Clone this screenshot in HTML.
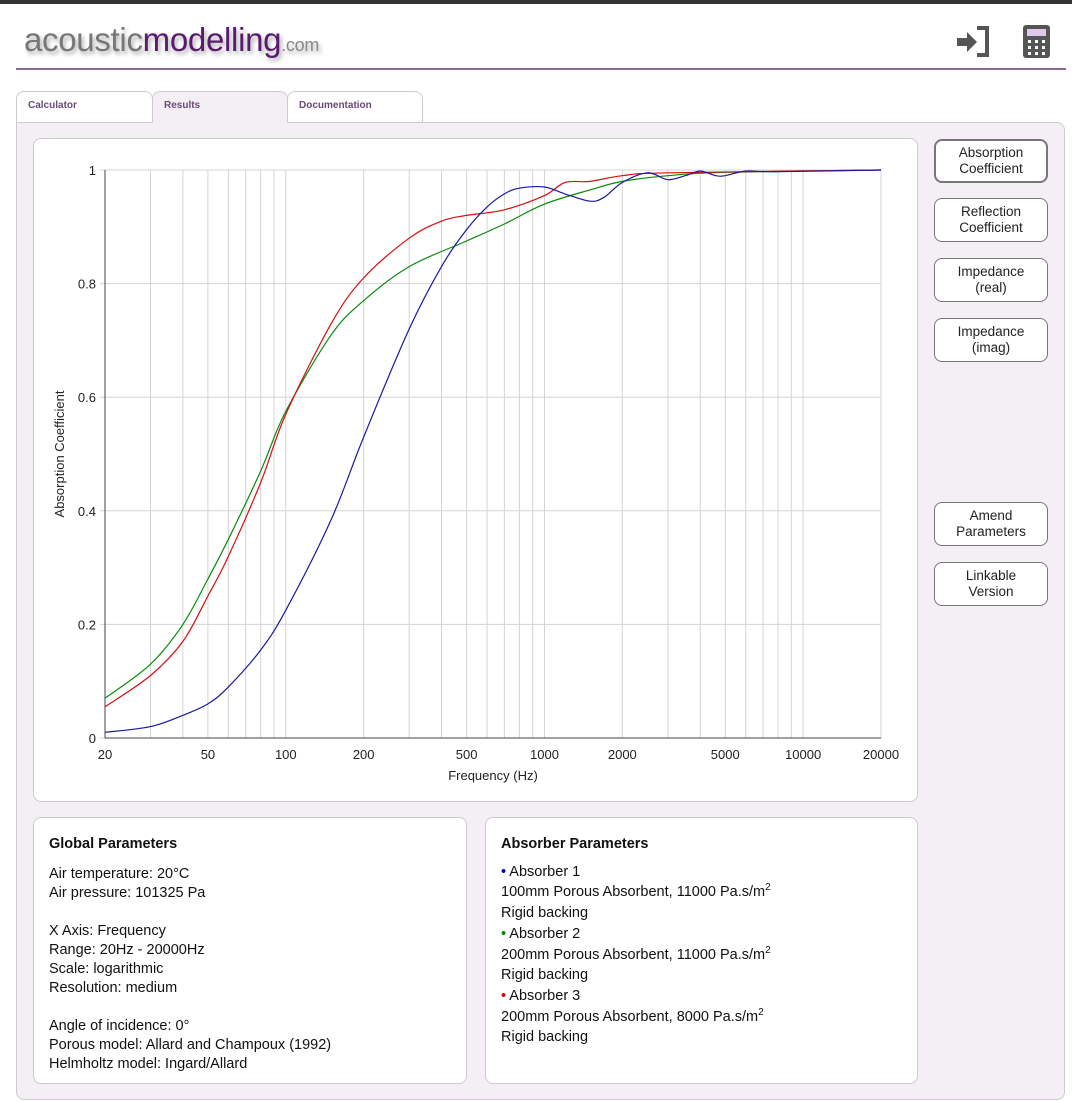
<!DOCTYPE html>
<html><head><style>
body{margin:0;width:1072px;height:1102px;background:#fff;font-family:"Liberation Sans",sans-serif;position:relative;overflow:hidden}
.topbar{position:absolute;left:0;top:0;width:1072px;height:4px;background:#333}
.logo{position:absolute;left:24px;top:21px;font-size:33px;letter-spacing:-0.3px;text-shadow:2px 3px 4px #aaa}
.logo .a{color:#777}.logo .b{color:#5a1a6e}.logo .c{color:#888;font-size:18px}
.hr{position:absolute;left:16px;top:68px;width:1050px;height:2px;background:#8a6a94}
.tab{position:absolute;top:91px;height:31px;border:1px solid #ccc;border-bottom:none;border-radius:8px 8px 0 0;background:#fff;font-size:10px;font-weight:bold;color:#6a4a78;box-sizing:border-box;padding:8px 11px}
.panel{position:absolute;left:16px;top:122px;width:1049px;height:978px;background:#f4eff5;border:1px solid #ccc;border-radius:0 8px 8px 8px;box-sizing:border-box}
.card{position:absolute;background:#fff;border:1px solid #ccc;border-radius:8px;box-sizing:border-box}
.btn{position:absolute;left:934px;width:114px;height:44px;background:#fff;border:1px solid #777;border-radius:8px;box-sizing:border-box;font-size:13.5px;text-align:center;line-height:16px;padding-top:5px;color:#222}
.txt{font-size:14.5px;line-height:19px;color:#111;padding:16px 15px}
.txt b{display:block;margin-bottom:11px;font-size:14.5px}
</style></head><body>
<div class="topbar"></div>
<div class="logo"><span class="a">acoustic</span><span class="b">modelling</span><span class="c">.com</span></div>
<svg style="position:absolute;left:955px;top:25px" width="36" height="34"><path d="M22 3h10v27h-10" fill="none" stroke="#555" stroke-width="4"/><path d="M2 13h10v-6l10 10-10 10v-6H2z" fill="#555"/></svg>
<svg style="position:absolute;left:1023px;top:25px" width="28" height="34"><rect x="0" y="0" width="27" height="33" rx="3" fill="#555"/><rect x="4" y="4" width="19" height="7" fill="#e0c8ea"/><g fill="#fff"><rect x="5" y="15" width="3" height="3"/><rect x="12" y="15" width="3" height="3"/><rect x="19" y="15" width="3" height="3"/><rect x="5" y="21" width="3" height="3"/><rect x="12" y="21" width="3" height="3"/><rect x="19" y="21" width="3" height="3"/><rect x="5" y="27" width="3" height="3"/><rect x="12" y="27" width="3" height="3"/><rect x="19" y="27" width="3" height="3"/></g></svg>
<div class="hr"></div>
<div class="panel"></div>
<div class="tab" style="left:16px;width:137px">Calculator</div>
<div class="tab" style="left:152px;width:136px;background:#f4eff5;height:32px">Results</div>
<div class="tab" style="left:287px;width:136px">Documentation</div>
<div class="card" style="left:33px;top:138px;width:885px;height:664px"></div>
<svg id="ch" style="position:absolute;left:0;top:0" width="1072" height="1102"></svg>
<div class="btn" style="top:139px;border-width:2px;padding-top:4px">Absorption<br>Coefficient</div>
<div class="btn" style="top:198px">Reflection<br>Coefficient</div>
<div class="btn" style="top:258px">Impedance<br>(real)</div>
<div class="btn" style="top:318px">Impedance<br>(imag)</div>
<div class="btn" style="top:502px">Amend<br>Parameters</div>
<div class="btn" style="top:562px">Linkable<br>Version</div>
<div class="card txt" style="left:33px;top:817px;width:434px;height:267px;padding-top:17px"><b>Global Parameters</b>Air temperature: 20°C<br>Air pressure: 101325 Pa<br><br>X Axis: Frequency<br>Range: 20Hz - 20000Hz<br>Scale: logarithmic<br>Resolution: medium<br><br>Angle of incidence: 0°<br>Porous model: Allard and Champoux (1992)<br>Helmholtz model: Ingard/Allard</div>
<div class="card txt" style="left:485px;top:817px;width:433px;height:267px;line-height:20.7px"><b style="margin-bottom:7px">Absorber Parameters</b><span style="color:#00a">•</span> Absorber 1<br>100mm Porous Absorbent, 11000 Pa.s/m<sup style="font-size:10px;line-height:0">2</sup><br>Rigid backing<br><span style="color:#080">•</span> Absorber 2<br>200mm Porous Absorbent, 11000 Pa.s/m<sup style="font-size:10px;line-height:0">2</sup><br>Rigid backing<br><span style="color:#c00">•</span> Absorber 3<br>200mm Porous Absorbent, 8000 Pa.s/m<sup style="font-size:10px;line-height:0">2</sup><br>Rigid backing</div>
<script>
var X0=105,X1=881,Y1=170,Y0=738;
function px(f){return X0+(Math.log10(f)-Math.log10(20))/3*(X1-X0)}
function py(v){return Y0-v*(Y0-Y1)}
var s='';
var fs=[20,30,40,50,60,70,80,90,100,200,300,400,500,600,700,800,900,1000,2000,3000,4000,5000,6000,7000,8000,9000,10000,20000];
fs.forEach(function(f){var x=px(f).toFixed(1);s+='<line x1="'+x+'" y1="'+Y1+'" x2="'+x+'" y2="'+Y0+'" stroke="#d4d4d4"/>';});
for(var i=0;i<=5;i++){var y=py(i/5);s+='<line x1="'+(X0-5)+'" y1="'+y+'" x2="'+X1+'" y2="'+y+'" stroke="#d4d4d4"/>';
s+='<text x="'+(X0-9)+'" y="'+(y+5)+'" text-anchor="end" font-size="13" fill="#222">'+(i==0?'0':i==5?'1':(i/5).toFixed(1))+'</text>';}
s+='<line x1="'+X0+'" y1="'+Y1+'" x2="'+X0+'" y2="'+Y0+'" stroke="#444"/>';
s+='<line x1="'+X0+'" y1="'+Y0+'" x2="'+X1+'" y2="'+Y0+'" stroke="#444"/>';
[20,50,100,200,500,1000,2000,5000,10000,20000].forEach(function(f){s+='<text x="'+px(f)+'" y="759" text-anchor="middle" font-size="13" fill="#222">'+f+'</text>';});
s+='<text x="493" y="780" text-anchor="middle" font-size="13" fill="#222">Frequency (Hz)</text>';
s+='<text transform="translate(64,454) rotate(-90)" text-anchor="middle" font-size="13" fill="#222">Absorption Coefficient</text>';
var B=[[20,.01],[30,.02],[40,.04],[50,.06],[60,.09],[80,.155],[100,.225],[150,.385],[200,.53],[300,.72],[400,.83],[500,.895],[600,.935],[700,.958],[800,.968],[1000,.97],[1200,.958],[1500,.945],[1700,.952],[2000,.978],[2500,.995],[3000,.983],[3500,.99],[4000,.998],[4600,.99],[5000,.99],[6000,.998],[8000,.997],[20000,1]];
var G=[[20,.07],[30,.13],[40,.2],[50,.28],[60,.35],[80,.47],[100,.575],[150,.71],[200,.77],[300,.83],[500,.875],[700,.905],[1000,.94],[1500,.965],[2000,.98],[3000,.99],[5000,.996],[20000,1]];
var R=[[20,.055],[30,.11],[40,.17],[50,.25],[60,.32],[80,.45],[100,.57],[150,.73],[200,.81],[300,.88],[400,.91],[500,.92],[700,.93],[1000,.955],[1200,.978],[1500,.98],[2000,.99],[3000,.995],[20000,1]];
function path(d,c){var p=d.map(function(q){return [px(q[0]),py(q[1])]});var str='M'+p[0][0].toFixed(1)+','+p[0][1].toFixed(1);
for(var i=0;i<p.length-1;i++){var a=p[Math.max(i-1,0)],b=p[i],c2=p[i+1],e=p[Math.min(i+2,p.length-1)];
var c1x=b[0]+(c2[0]-a[0])/6,c1y=b[1]+(c2[1]-a[1])/6,c3x=c2[0]-(e[0]-b[0])/6,c3y=c2[1]-(e[1]-b[1])/6;
str+=' C'+c1x.toFixed(1)+','+c1y.toFixed(1)+' '+c3x.toFixed(1)+','+c3y.toFixed(1)+' '+c2[0].toFixed(1)+','+c2[1].toFixed(1);}
return '<path fill="none" stroke="'+c+'" stroke-width="1.2" d="'+str+'"/>';}
s+=path(G,'#0a8a0a')+path(R,'#d41010')+path(B,'#1a1aa0');
document.getElementById('ch').innerHTML=s;
</script>
</body></html>
